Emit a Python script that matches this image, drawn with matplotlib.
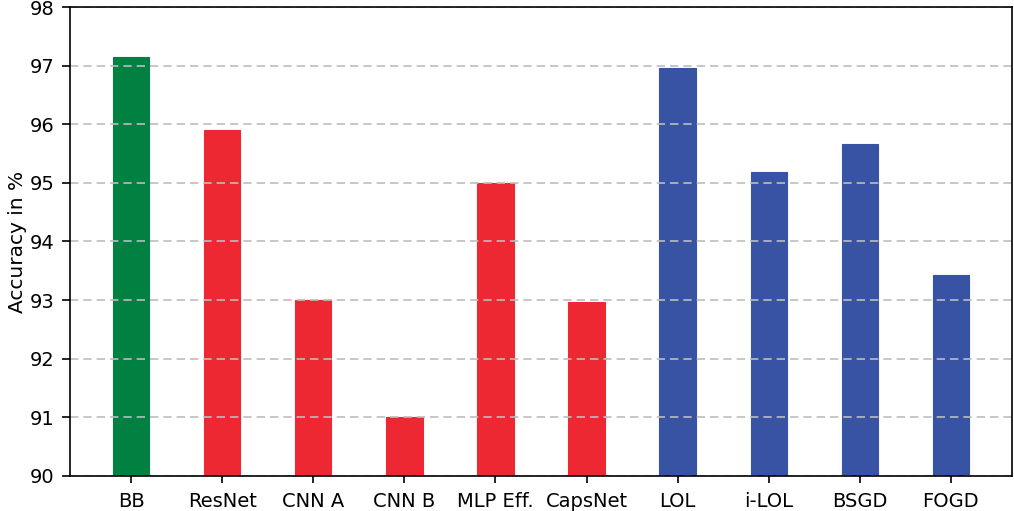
import matplotlib
matplotlib.use("Agg")
import matplotlib.pyplot as plt

categories = ["BB", "ResNet", "CNN A", "CNN B", "MLP Eff.", "CapsNet", "LOL", "i-LOL", "BSGD", "FOGD"]
values = [97.15, 95.90, 93.00, 91.00, 95.00, 92.97, 96.96, 95.18, 95.67, 93.43]
colors = ["#008142", "#EE2832", "#EE2832", "#EE2832", "#EE2832", "#EE2832",
          "#3853A4", "#3853A4", "#3853A4", "#3853A4"]

fig = plt.figure(figsize=(10.14, 5.11), dpi=100)
ax = fig.add_axes([0.069, 0.069, 0.929, 0.917])
x = range(len(categories))
ax.bar(x, values, width=0.4, color=colors, edgecolor=colors, linewidth=0.8, zorder=2)
ax.set_ylim(90, 98)
ax.set_xticks(list(x))
ax.set_xticklabels(categories, fontsize=14)
ax.tick_params(axis='y', labelsize=14, length=6, pad=5, width=1.2)
ax.tick_params(axis='x', length=5, pad=7, width=1.2)
ax.set_ylabel("Accuracy in %", fontsize=14.5, labelpad=2)
ax.yaxis.grid(True, linestyle=(0, (5, 3)), color="#bdbdbd", linewidth=1.2, zorder=3)
ax.set_axisbelow(False)
for s in ax.spines.values():
    s.set_linewidth(1.2)
    s.set_zorder(5)
fig.savefig("out.png", dpi=100)
